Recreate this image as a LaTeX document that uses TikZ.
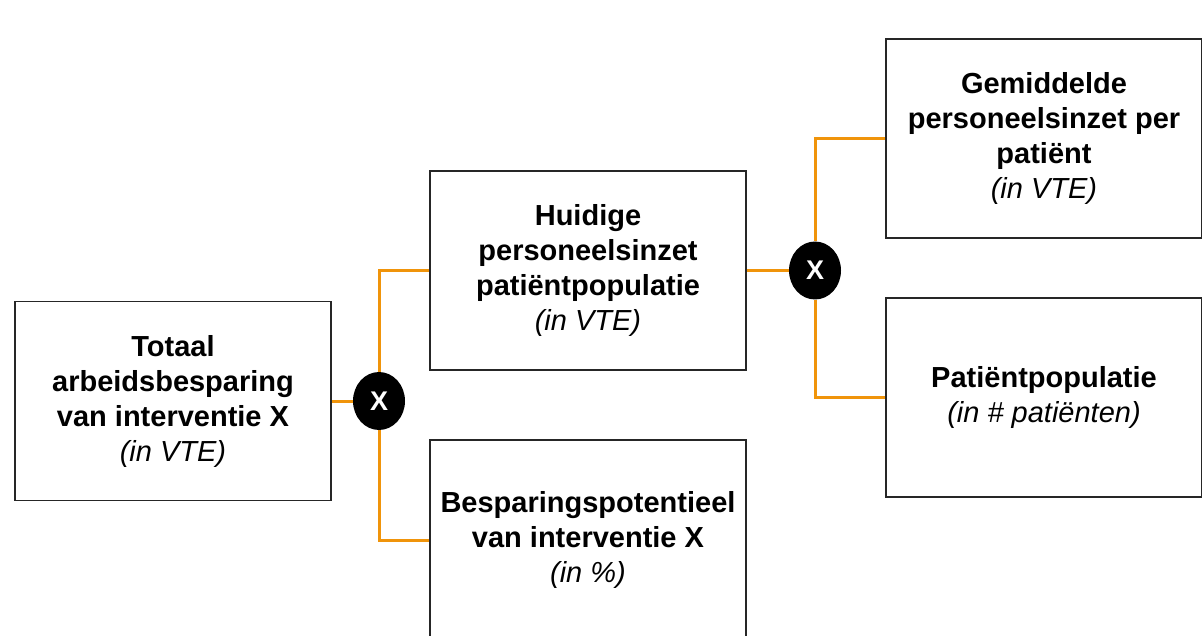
\documentclass[tikz,border=0pt]{standalone}
\usepackage{fontspec}
\setmainfont{Liberation Sans}
\usetikzlibrary{shapes.geometric}
\definecolor{connorange}{HTML}{F0940A}
\begin{document}
\begin{tikzpicture}[x=1pt,y=-1pt,
  box/.style={draw=black!85, line width=1.3pt, fill=white, minimum width=316pt, minimum height=199pt,
    align=center, inner sep=0pt, font=\fontsize{29}{35}\selectfont},
  opnode/.style={ellipse, fill=black, minimum width=52pt, minimum height=58pt, inner sep=0pt,
    text=white, font=\bfseries\fontsize{27}{27}\selectfont},
  conn/.style={draw=connorange, line width=3pt}]
\useasboundingbox (0,0) rectangle (1202,636);
\clip (0,0) rectangle (1202,636);
\node[box] (A) at (173,401) {\textbf{Totaal}\\\textbf{arbeidsbesparing}\\\textbf{van interventie X}\\\textit{(in VTE)}};
\node[box] (B) at (588,270.5) {\textbf{Huidige}\\\textbf{personeelsinzet}\\\textbf{patiëntpopulatie}\\\textit{(in VTE)}};
\node[box, minimum height=200pt] (C) at (588,540) {\textbf{Besparingspotentieel}\\\textbf{van interventie X}\\\textit{(in \%)}};
\node[box] (D) at (1044,138.5) {\textbf{Gemiddelde}\\\textbf{personeelsinzet per}\\\textbf{patiënt}\\\textit{(in VTE)}};
\node[box] (E) at (1044,397.5) {\textbf{Patiëntpopulatie}\\\textit{(in \# patiënten)}};
\node[opnode] (op1) at (379,401) {X};
\node[opnode] (op2) at (815,270.5) {X};
\draw[conn] (A.east) -- (op1);
\draw[conn] (op1) |- (B.west);
\draw[conn] (op1) |- (C.west);
\draw[conn] (B.east) -- (op2);
\draw[conn] (op2) |- (D.west);
\draw[conn] (op2) |- (E.west);
\end{tikzpicture}
\end{document}
